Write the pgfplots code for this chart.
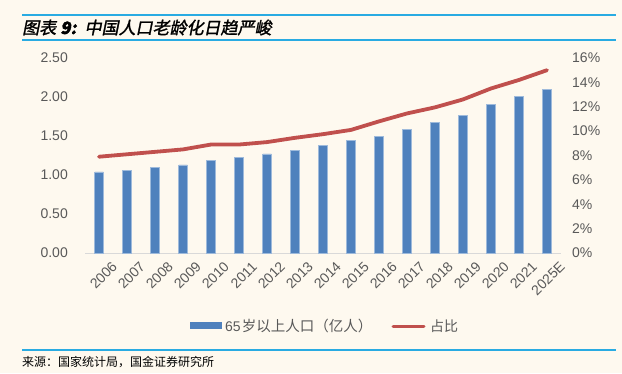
\documentclass[border=0pt]{standalone}
\usepackage{pgfplots}
\pgfplotsset{compat=1.18}
\usepackage{fontspec}
\setmainfont{Liberation Sans}
\newfontfamily\cjk{Noto Sans CJK SC}
\newfontfamily\cjktitle[FakeSlant=0.2,FakeBold=1.5]{Noto Sans CJK SC}
\definecolor{bg}{RGB}{254,249,239}
\definecolor{barblue}{RGB}{79,129,189}
\definecolor{linered}{RGB}{192,80,77}
\definecolor{rule}{RGB}{41,171,226}
\definecolor{txt}{RGB}{89,89,89}
\begin{document}
\begin{tikzpicture}[x=1pt,y=1pt]
\fill[bg] (0,0) rectangle (622,373);
\useasboundingbox (0,0) rectangle (622,373);
% title rules
\draw[rule, line width=1.5pt] (22,358) -- (616,358);
\draw[rule, line width=1.5pt] (22,333) -- (616,333);
\node[anchor=west, inner sep=0pt] at (22,345.5) {\fontsize{17}{19}\selectfont\cjktitle 图表\hspace{4pt}\textbf{\textit{9:}}\hspace{8pt}中国人口老龄化日趋严峻};
% bottom rule + source
\draw[rule, line width=1.5pt] (22,23) -- (616,23);
\node[anchor=west, inner sep=0pt] at (22,11) {\fontsize{12}{14}\selectfont\cjk 来源：国家统计局，国金证券研究所};

\begin{axis}[
  at={(85pt,120pt)}, anchor=south west,
  scale only axis, width=476pt, height=195pt,
  xmin=-0.5, xmax=16.5, ymin=0, ymax=2.5,
  axis x line*=bottom, axis y line*=left,
  y axis line style={draw=none},
  x axis line style={draw=black!15, line width=1pt},
  major tick length=0pt,
  xtick={0,...,16},
  xticklabels={2006,2007,2008,2009,2010,2011,2012,2013,2014,2015,2016,2017,2018,2019,2020,2021,2025E},
  xticklabel style={rotate=45, anchor=east, inner sep=0pt, xshift=3pt, yshift=-19pt, font=\fontsize{14}{16}\selectfont, text=txt},
  ytick={0,0.5,1,1.5,2,2.5},
  yticklabels={0.00,0.50,1.00,1.50,2.00,2.50},
  yticklabel style={anchor=east, inner sep=0pt, xshift=-17pt, font=\fontsize{14}{16}\selectfont, text=txt},
  clip=false,
]
\addplot[ybar, bar width=8.5pt, fill=barblue, draw=barblue!55!white, line width=0.6pt] coordinates {
(0,1.04) (1,1.06) (2,1.10) (3,1.13) (4,1.19) (5,1.23) (6,1.27) (7,1.32) (8,1.38)
(9,1.44) (10,1.50) (11,1.58) (12,1.67) (13,1.76) (14,1.91) (15,2.01) (16,2.10)};
\end{axis}

\begin{axis}[
  at={(85pt,120pt)}, anchor=south west,
  scale only axis, width=476pt, height=195pt,
  xmin=-0.5, xmax=16.5, ymin=0, ymax=16,
  axis x line=none, axis y line*=right,
  y axis line style={draw=none},
  major tick length=0pt,
  ytick={0,2,4,6,8,10,12,14,16},
  yticklabels={0\%,2\%,4\%,6\%,8\%,10\%,12\%,14\%,16\%},
  yticklabel style={anchor=west, inner sep=0pt, xshift=11pt, font=\fontsize{14}{16}\selectfont, text=txt},
  clip=false,
]
\addplot[linered, line width=3.8pt, line join=round, line cap=round, mark=none] coordinates {
(0,7.9) (1,8.1) (2,8.3) (3,8.5) (4,8.9) (5,8.9) (6,9.1) (7,9.45) (8,9.75)
(9,10.1) (10,10.8) (11,11.45) (12,11.95) (13,12.6) (14,13.5) (15,14.2) (16,15.0)};
\end{axis}

% legend
\fill[barblue] (190,44.5) rectangle (222,51);
\node[anchor=west, inner sep=0pt, text=txt] at (225,47) {\fontsize{14}{16}\selectfont 65\hspace{1pt}\fontsize{14.5}{16}\selectfont\cjk 岁以上人口（亿人）};
\draw[linered, line width=3pt, line cap=round] (393,47) -- (424,47);
\node[anchor=west, inner sep=0pt, text=txt] at (430,47) {\fontsize{14}{16}\selectfont\cjk 占比};
\end{tikzpicture}
\end{document}
